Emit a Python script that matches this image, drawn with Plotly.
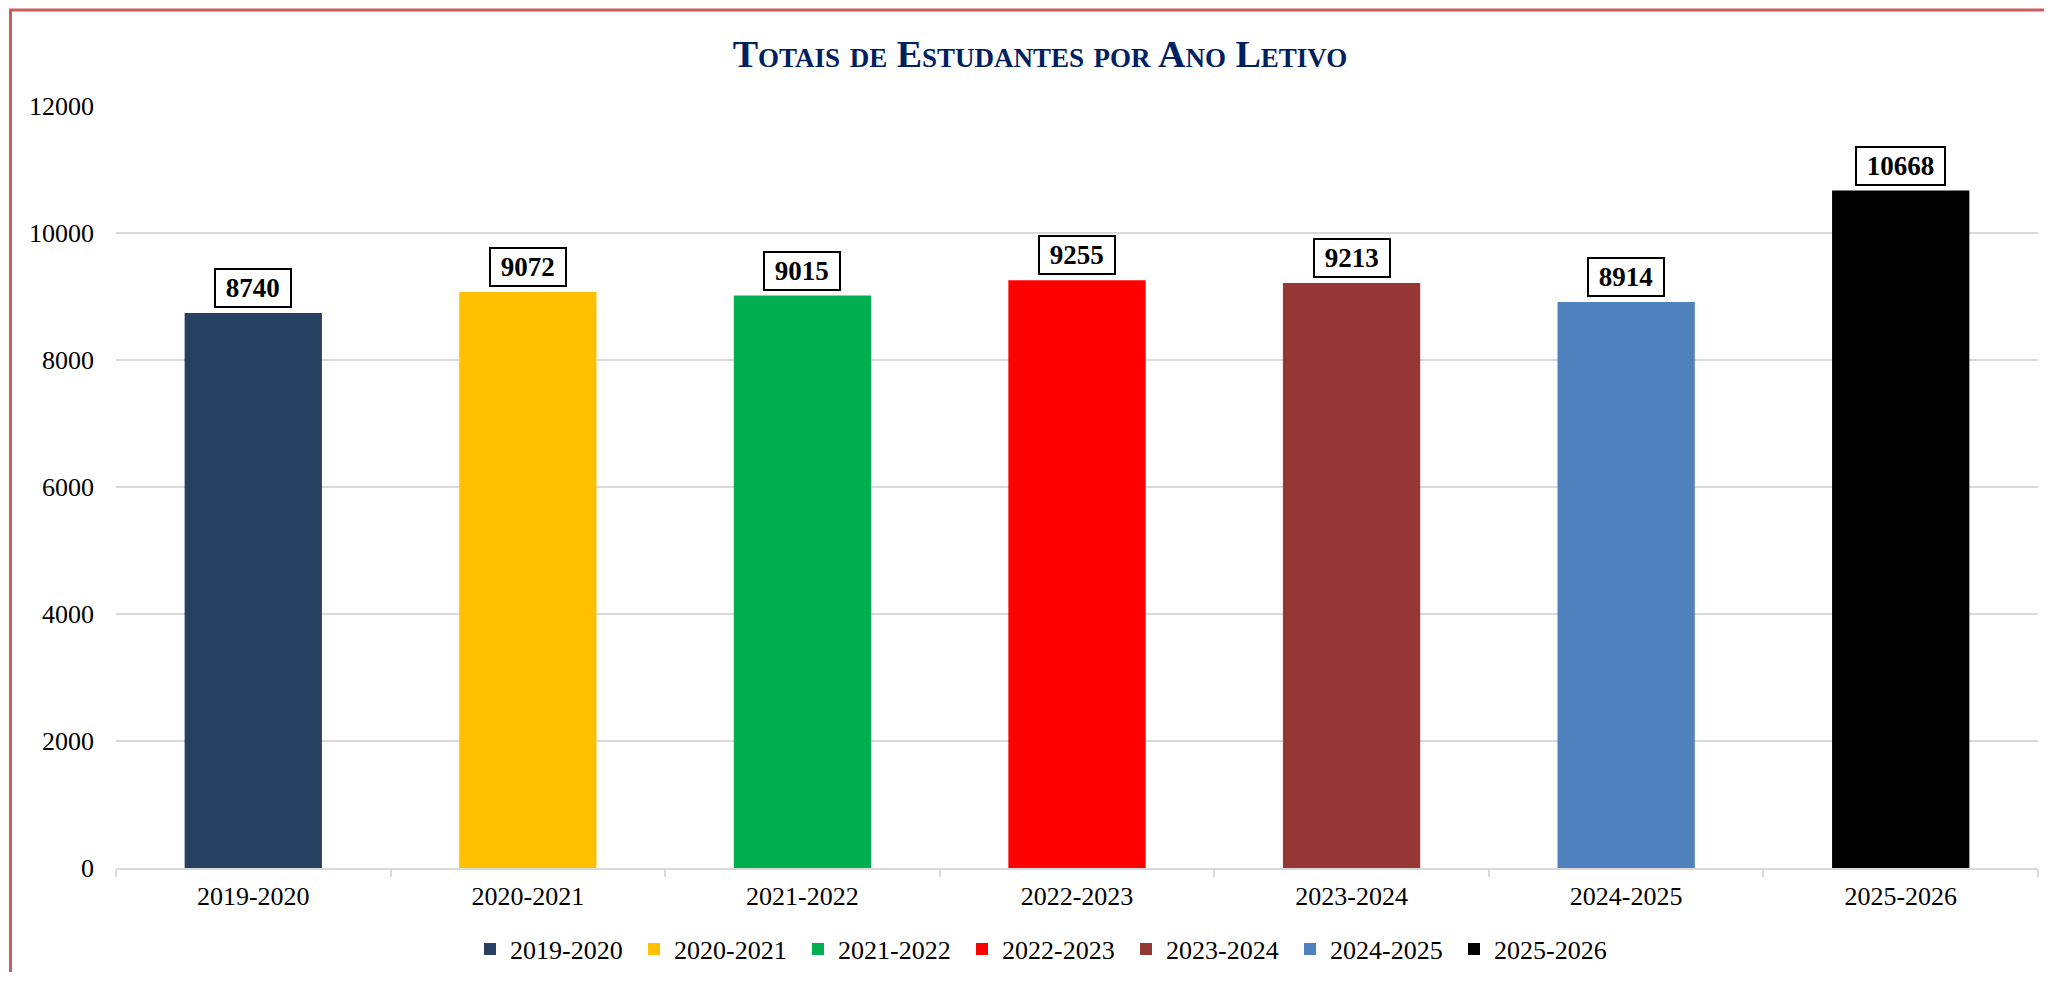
import plotly.graph_objects as go

categories = ["2019-2020", "2020-2021", "2021-2022", "2022-2023", "2023-2024", "2024-2025", "2025-2026"]
values = [8740, 9072, 9015, 9255, 9213, 8914, 10668]
colors = ["#264061", "#FFC000", "#00B050", "#FF0000", "#953735", "#4F81BD", "#000000"]
y_ticks = [0, 2000, 4000, 6000, 8000, 10000, 12000]
title_text = "Totais de Estudantes por Ano Letivo"

# page body has an 8px margin; the figure is sized so the page fits the window
OFF = 8
W, H = 2036, 964
L, R, T, B = 108, 6, 98, 104
PW, PH = W - L - R, H - T - B


def px(x_real):
    return (x_real - OFF - L) / PW


def py(y_real):
    return (H - B - (y_real - OFF)) / PH


SERIF = "Liberation Serif, Times New Roman, serif"
NB = "\u00a0"

fig = go.Figure()
for cat, val, col in zip(categories, values, colors):
    fig.add_trace(go.Bar(
        x=[cat], y=[val], name=cat, marker=dict(color=col, line=dict(width=0)),
        hoverinfo="x+y",
    ))

annotations = []
for cat, val in zip(categories, values):
    annotations.append(dict(
        x=cat, y=val, xref="x", yref="y", text=f"<b>{NB}{val}{NB}</b>", showarrow=False,
        yanchor="bottom", xanchor="center", yshift=5,
        font=dict(family=SERIF, size=27, color="#000000"),
        bgcolor="#FFFFFF", bordercolor="#000000", borderwidth=2, borderpad=3,
    ))

shapes = [
    # red frame (left and top)
    dict(type="path", xref="paper", yref="paper",
         path=f"M {px(10.5)} {py(OFF + H)} L {px(10.5)} {py(10)} L {px(OFF + W)} {py(10)}",
         line=dict(color="#CD5C5C", width=3)),
]

fig.update_layout(
    width=W, height=H,
    margin=dict(l=L, r=R, t=T, b=B, autoexpand=False),
    paper_bgcolor="#FFFFFF", plot_bgcolor="#FFFFFF",
    barmode="overlay", bargap=0.5,
    title=dict(
        text=f"<b>{title_text}</b>", x=px(1040), xref="paper", xanchor="center",
        y=1 - (54 - OFF) / H, yref="container", yanchor="middle",
        font=dict(family=SERIF, size=38, color="#002060", variant="small-caps"),
    ),
    font=dict(family=SERIF, color="#000000"),
    xaxis=dict(
        categoryorder="array", categoryarray=categories,
        showline=True, linecolor="#D9D9D9", linewidth=2,
        ticks="outside", tickson="boundaries", ticklen=7, tickcolor="#D9D9D9", tickwidth=2,
        tickfont=dict(family=SERIF, size=26, color="#000000"),
        showgrid=False, zeroline=False, ticklabelstandoff=4, fixedrange=True,
    ),
    yaxis=dict(
        range=[0, 12000], tickvals=y_ticks, ticktext=[str(v) for v in y_ticks],
        showgrid=True, gridcolor="#D9D9D9", gridwidth=2, zeroline=False,
        showline=False, ticks="", ticklabelstandoff=21,
        tickfont=dict(family=SERIF, size=26, color="#000000"),
    ),
    legend=dict(
        orientation="h", x=px(1044), xanchor="center", y=py(949), yanchor="middle",
        font=dict(family=SERIF, size=26, color="#000000"), itemwidth=30,
        entrywidth=119, entrywidthmode="pixels",
        bgcolor="rgba(0,0,0,0)", traceorder="normal",
    ),
    annotations=annotations,
    shapes=shapes,
    showlegend=True,
)

fig.write_html("out.html")
